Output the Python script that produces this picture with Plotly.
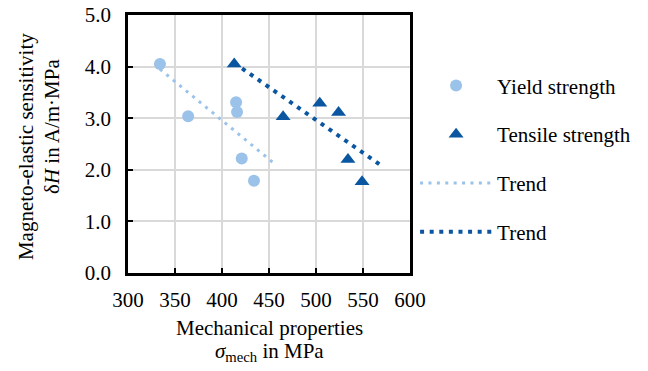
import plotly.graph_objects as go

# Data
yield_x = [334, 364, 415, 416, 421, 434]
yield_y = [4.05, 3.04, 3.31, 3.12, 2.22, 1.79]

tensile_x = [413, 465, 504, 524, 534, 549]
tensile_y = [4.05, 3.03, 3.29, 3.11, 2.20, 1.77]

trend_yield_x = [334, 457]
trend_yield_y = [3.95, 2.10]
trend_tensile_x = [413, 572]
trend_tensile_y = [4.07, 2.05]

x_ticks = [300, 350, 400, 450, 500, 550, 600]
y_ticks = [0, 1, 2, 3, 4, 5]

LIGHT = "#9bc2e9"
DARK = "#0a56a0"
FONT = "Liberation Serif, Times New Roman, serif"
FS = 21

fig = go.Figure()
fig.add_trace(go.Scatter(x=yield_x, y=yield_y, mode="markers", name="Yield strength",
                         legendgroup="a",
                         marker=dict(symbol="circle", size=12, color=LIGHT)))
fig.add_trace(go.Scatter(x=tensile_x, y=tensile_y, mode="markers", name="Tensile strength",
                         legendgroup="b",
                         marker=dict(symbol="triangle-up", size=13, color=DARK)))
fig.add_trace(go.Scatter(x=trend_yield_x, y=trend_yield_y, mode="lines", name="Trend",
                         legendgroup="c",
                         line=dict(color=LIGHT, width=3, dash="3px,5.4px")))
fig.add_trace(go.Scatter(x=trend_tensile_x, y=trend_tensile_y, mode="lines", name="Trend",
                         legendgroup="d",
                         line=dict(color=DARK, width=4, dash="4px,5.6px")))

axis_common = dict(showline=True, linecolor="black", linewidth=2.5, mirror=True,
                   showgrid=True, gridcolor="#d9d9d9", gridwidth=1.5,
                   ticks="inside", ticklen=5, tickwidth=2, tickcolor="black",
                   zeroline=False, automargin=False, ticklabeloverflow="allow",
                   tickfont=dict(family=FONT, size=FS, color="black"))

fig.update_xaxes(range=[300, 600], tickvals=x_ticks, ticktext=[str(v) for v in x_ticks],
                 ticklabelstandoff=6, **axis_common)
fig.update_yaxes(range=[0, 5], tickvals=y_ticks, ticktext=[f"{v:.1f}" for v in y_ticks],
                 ticklabelstandoff=10, **axis_common)

annots = [
    dict(text="Mechanical properties", x=0.5, y=0, xref="paper", yref="paper",
         xanchor="center", yanchor="middle", yshift=-55, showarrow=False),
    dict(text="<i>σ</i><sub>mech</sub> in MPa", x=0.5, y=0, xref="paper", yref="paper",
         xanchor="center", yanchor="middle", yshift=-79, showarrow=False),
    dict(text="Magneto-elastic sensitivity", x=0, y=0.488, xref="paper", yref="paper",
         xanchor="center", yanchor="middle", xshift=-102, textangle=-90, showarrow=False),
    dict(text="δ<i>H</i> in A/m·MPa", x=0, y=0.566, xref="paper", yref="paper",
         xanchor="center", yanchor="middle", xshift=-76, textangle=-90, showarrow=False),
]
for a in annots:
    a["font"] = dict(family=FONT, size=FS, color="black")

fig.update_layout(
    width=648, height=371,
    margin=dict(l=128, r=238, t=15, b=98, pad=0),
    paper_bgcolor="white", plot_bgcolor="white",
    font=dict(family=FONT, size=FS, color="black"),
    showlegend=True,
    legend=dict(x=1.018, xanchor="left", y=0.805, yanchor="top",
                itemwidth=72, tracegroupgap=18.5,
                font=dict(family=FONT, size=FS, color="black"),
                bgcolor="rgba(0,0,0,0)"),
    annotations=annots,
)

# Remove the browser's default 8px body margin so the figure sits at the page origin.
fig.write_html("out.html", config={"displayModeBar": False},
               post_script="document.body.style.margin='0';")
